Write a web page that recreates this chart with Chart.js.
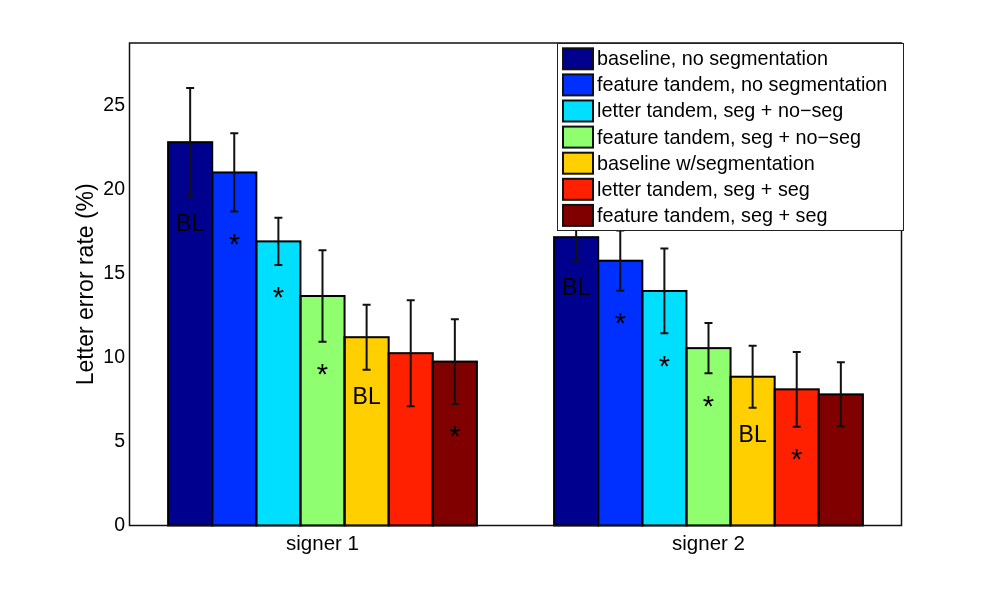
<!DOCTYPE html>
<html><head><meta charset="utf-8">
<script src="https://cdn.jsdelivr.net/npm/chart.js@4.4.1/dist/chart.umd.min.js"></script>
<style>html,body{margin:0;padding:0;background:#fff;overflow:hidden}canvas{display:block}</style>
</head><body>
<canvas id="c" width="997" height="591"></canvas>
<script>
// ---- data ----
const categories = ['signer 1', 'signer 2'];
const seriesLabels = [
  'baseline, no segmentation',
  'feature tandem, no segmentation',
  'letter tandem, seg + no\u2212seg',
  'feature tandem, seg + no\u2212seg',
  'baseline w/segmentation',
  'letter tandem, seg + seg',
  'feature tandem, seg + seg'
];
const signer1Rates = [22.8, 21.0, 16.9, 13.65, 11.2, 10.25, 9.75];
const signer2Rates = [17.15, 15.75, 13.95, 10.55, 8.85, 8.1, 7.8];
const signer1Err = [3.22, 2.33, 1.4, 2.72, 1.93, 3.15, 2.52];
const signer2Err = [1.43, 1.79, 2.52, 1.5, 1.84, 2.22, 1.91];
const signer1Marks = ['BL', '*', '*', '*', 'BL', '', '*'];
const signer2Marks = ['BL', '*', '*', '*', 'BL', '*', ''];
const yTicks = [0, 5, 10, 15, 20, 25];
const yMax = 28.7;

// ---- styles ----
const seriesColors = ['#00008f', '#0030ff', '#00dfff', '#8fff70', '#ffcf00', '#ff2000', '#800000'];
const FONT = '"Liberation Sans", Arial, Helvetica, sans-serif';
Chart.defaults.font.family = FONT;
Chart.defaults.color = '#000';

const rates = [signer1Rates, signer2Rates];
const errs = [signer1Err, signer2Err];
const marks = [signer1Marks, signer2Marks];

const datasets = seriesLabels.map((lab, i) => ({
  label: lab,
  data: categories.map((c, j) => rates[j][i]),
  backgroundColor: seriesColors[i],
  borderWidth: 0
}));

const overlay = {
  id: 'overlay',
  afterDatasetsDraw(chart) {
    const ctx = chart.ctx, ys = chart.scales.y, ca = chart.chartArea;
    ctx.save();
    // bar outlines
    ctx.strokeStyle = '#000'; ctx.lineWidth = 2;
    chart.data.datasets.forEach((ds, i) => {
      chart.getDatasetMeta(i).data.forEach(bar => {
        const p = bar.getProps(['x', 'y', 'base', 'width'], true);
        ctx.strokeRect(p.x - p.width / 2, p.y, p.width, p.base - p.y);
      });
    });
    // axes frame
    ctx.lineWidth = 1.5; ctx.strokeStyle = '#111';
    ctx.strokeRect(ca.left, ca.top, ca.right - ca.left, ca.bottom - ca.top);
    // error bars and marks
    chart.data.datasets.forEach((ds, i) => {
      chart.getDatasetMeta(i).data.forEach((bar, j) => {
        const v = rates[j][i], e = errs[j][i];
        const x = bar.x;
        const yHi = ys.getPixelForValue(v + e), yLo = ys.getPixelForValue(v - e);
        ctx.strokeStyle = '#111'; ctx.lineWidth = 2;
        ctx.beginPath();
        ctx.moveTo(x, yHi); ctx.lineTo(x, yLo);
        ctx.moveTo(x - 4, yHi); ctx.lineTo(x + 4, yHi);
        ctx.moveTo(x - 4, yLo); ctx.lineTo(x + 4, yLo);
        ctx.stroke();
        const m = marks[j][i];
        if (m) {
          const cy = yLo + 26;
          ctx.fillStyle = '#000';
          ctx.textAlign = 'center';
          ctx.textBaseline = 'alphabetic';
          if (m === '*') {
            ctx.font = '29px ' + FONT;
            ctx.fillText(m, x, cy + 16.5);
          } else {
            ctx.font = '23px ' + FONT;
            ctx.fillText(m, x, cy + 8.2);
          }
        }
      });
    });
    // legend
    const lx = ca.right - 344.5, ly = ca.top, lw = 346, lh = 187;
    ctx.fillStyle = '#fff';
    ctx.fillRect(lx, ly, lw, lh);
    ctx.lineWidth = 1; ctx.strokeStyle = '#222';
    ctx.strokeRect(lx + 0.5, ly + 0.5, lw, lh);
    ctx.font = '19.8px ' + FONT;
    ctx.textAlign = 'left'; ctx.textBaseline = 'middle';
    seriesLabels.forEach((lab, i) => {
      const cy = ly + 15.8 + i * 26.1;
      ctx.fillStyle = seriesColors[i];
      ctx.fillRect(lx + 6, cy - 10.5, 30, 21);
      ctx.lineWidth = 2; ctx.strokeStyle = '#111';
      ctx.strokeRect(lx + 6, cy - 10.5, 30, 21);
      ctx.fillStyle = '#000';
      ctx.fillText(lab, lx + 40, cy + 1);
    });
    ctx.restore();
  }
};

new Chart(document.getElementById('c'), {
  type: 'bar',
  data: { labels: categories, datasets },
  options: {
    responsive: false,
    animation: false,
    layout: { padding: { left: 73.2, top: 43, right: 95.5, bottom: 0 } },
    plugins: { legend: { display: false }, tooltip: { enabled: false } },
    datasets: { bar: { categoryPercentage: 0.8, barPercentage: 1.0 } },
    scales: {
      x: {
        grid: { display: false, drawTicks: false },
        border: { display: false },
        ticks: { font: { size: 20.5 }, color: '#000', padding: 7 },
        afterFit(s) { s.height = 65.5; }
      },
      y: {
        min: 0, max: yMax,
        grid: { display: false, drawTicks: false },
        border: { display: false },
        ticks: { font: { size: 19.5 }, color: '#000', padding: 4.5 },
        afterBuildTicks(s) { s.ticks = yTicks.map(v => ({ value: v })); },
        afterFit(s) { s.width = 56.3; },
        title: { display: true, text: 'Letter error rate (%)', font: { size: 23 }, color: '#000', padding: 0 }
      }
    }
  },
  plugins: [overlay]
});
</script>
</body></html>
